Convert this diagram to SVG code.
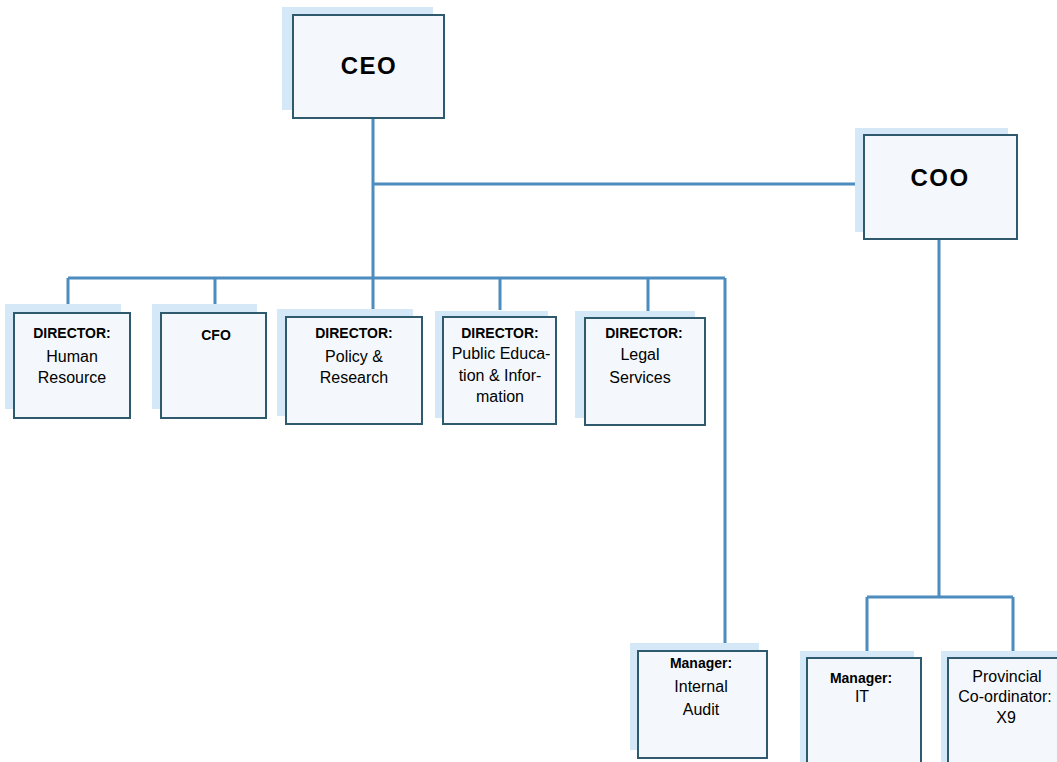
<svg xmlns="http://www.w3.org/2000/svg" width="1057" height="762" viewBox="0 0 1057 762">
<style>
.sh{fill:#d4e8f7}
.bx{fill:#f4f8fc;stroke:#2f5a6e;stroke-width:2}
.cn{stroke:#4d8cbf;stroke-width:3;fill:none}
.big{font-family:"Liberation Sans",Arial,sans-serif;font-weight:bold;font-size:24px;letter-spacing:1.5px;fill:#000;text-anchor:middle}
.hd{font-family:"Liberation Sans",Arial,sans-serif;font-weight:bold;font-size:14px;fill:#000;text-anchor:middle}
.tx{font-family:"Liberation Sans",Arial,sans-serif;font-size:16px;fill:#000;text-anchor:middle}
</style>
<rect width="1057" height="762" fill="#fff"/>
<g id="connectors">
<path class="cn" d="M373 118V278M373 184H855M68 278H725M68 278V306M215 278V306M373 278V310M500 278V310M648 278V311M725 278V644"/>
<path class="cn" d="M939 239V597M867 597H1013M867 597V652M1013 597V652"/>
</g>
<g id="ceo">
<rect class="sh" x="282" y="7" width="151" height="103"/>
<rect class="bx" x="293" y="15" width="151" height="103"/>
<text class="big" x="369" y="74">CEO</text>
</g>
<g id="coo">
<rect class="sh" x="855" y="128" width="153" height="104"/>
<rect class="bx" x="864" y="135" width="153" height="104"/>
<text class="big" x="940" y="186">COO</text>
</g>
<g id="hr">
<rect class="sh" x="5" y="304" width="116" height="105"/>
<rect class="bx" x="14" y="313" width="116" height="105"/>
<text class="hd" x="72" y="338">DIRECTOR:</text>
<text class="tx" x="72" y="362">Human</text>
<text class="tx" x="72" y="383">Resource</text>
</g>
<g id="cfo">
<rect class="sh" x="152" y="304" width="105" height="105"/>
<rect class="bx" x="161" y="313" width="105" height="105"/>
<text class="hd" x="216" y="340">CFO</text>
</g>
<g id="policy">
<rect class="sh" x="277" y="309" width="136" height="107"/>
<rect class="bx" x="286" y="317" width="136" height="107"/>
<text class="hd" x="354" y="338">DIRECTOR:</text>
<text class="tx" x="354" y="362">Policy &amp;</text>
<text class="tx" x="354" y="383">Research</text>
</g>
<g id="public">
<rect class="sh" x="435" y="311" width="113" height="107"/>
<rect class="bx" x="443" y="317" width="113" height="107"/>
<text class="hd" x="500" y="338">DIRECTOR:</text>
<text class="tx" x="501" y="359">Public Educa-</text>
<text class="tx" x="500" y="381">tion &amp; Infor-</text>
<text class="tx" x="500" y="402">mation</text>
</g>
<g id="legal">
<rect class="sh" x="575" y="311" width="120" height="107"/>
<rect class="bx" x="585" y="318" width="120" height="107"/>
<text class="hd" x="644" y="338">DIRECTOR:</text>
<text class="tx" x="640" y="360">Legal</text>
<text class="tx" x="640" y="383">Services</text>
</g>
<g id="audit">
<rect class="sh" x="630" y="643" width="129" height="107"/>
<rect class="bx" x="638" y="651" width="129" height="107"/>
<text class="hd" x="701" y="668">Manager:</text>
<text class="tx" x="701" y="692">Internal</text>
<text class="tx" x="701" y="715">Audit</text>
</g>
<g id="it">
<rect class="sh" x="800" y="651" width="114" height="115"/>
<rect class="bx" x="807" y="658" width="114" height="115"/>
<text class="hd" x="861" y="683">Manager:</text>
<text class="tx" x="862" y="702">IT</text>
</g>
<g id="provincial">
<rect class="sh" x="941" y="651" width="125" height="115"/>
<rect class="bx" x="948" y="658" width="125" height="115"/>
<text class="tx" x="1007" y="682">Provincial</text>
<text class="tx" x="1005" y="702">Co-ordinator:</text>
<text class="tx" x="1006" y="723">X9</text>
</g>
</svg>
